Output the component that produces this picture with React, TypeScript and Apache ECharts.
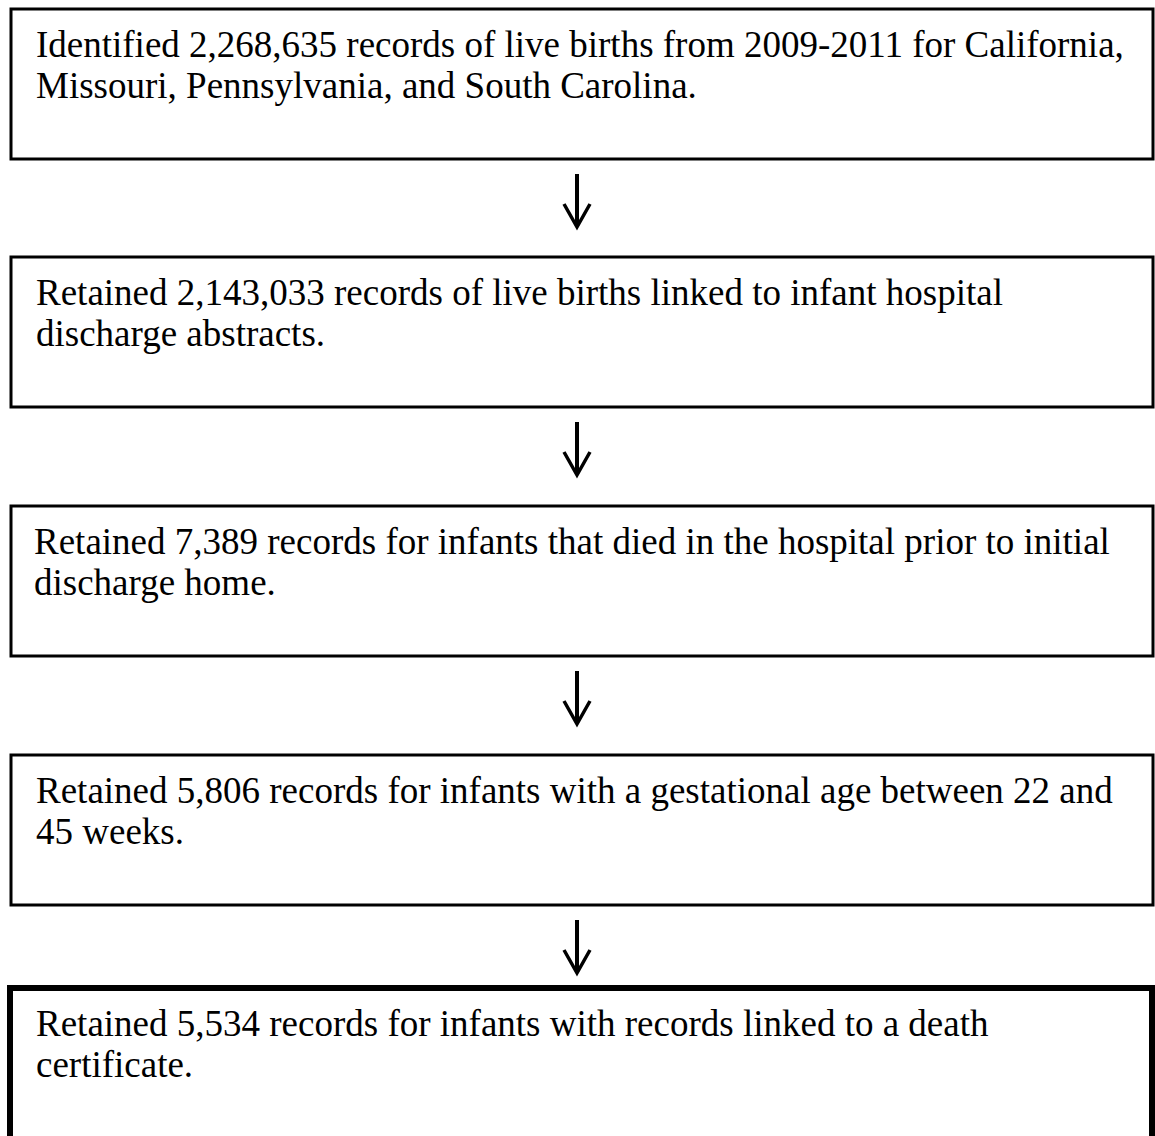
import React, { useEffect, useRef } from "react";
import * as echarts from "echarts";

const boxLines: string[][] = [
  ["Identified 2,268,635 records of live births from 2009-2011 for California,", "Missouri, Pennsylvania, and South Carolina."],
  ["Retained 2,143,033 records of live births linked to infant hospital", "discharge abstracts."],
  ["Retained 7,389 records for infants that died in the hospital prior to initial", "discharge home."],
  ["Retained 5,806 records for infants with a gestational age between 22 and", "45 weeks."],
  ["Retained 5,534 records for infants with records linked to a death", "certificate."],
];
const boxTops = [9, 257, 506, 755, 988];
const boxTextLeft = [36, 36, 34, 36, 36];
const boxBorder = [3, 3, 3, 3, 6];

export default function App() {
  const ref = useRef<HTMLDivElement>(null);
  useEffect(() => {
    if (!ref.current) return;
    const chart = echarts.init(ref.current, null, { renderer: "svg" });
    const boxH = 150;
    const fontSize = 37;
    const elements: any[] = [];
    boxLines.forEach((lines, i) => {
      const y = boxTops[i];
      const last = i === boxLines.length - 1;
      const bw = boxBorder[i];
      elements.push({
        type: "rect",
        shape: { x: last ? 10 : 11, y: y, width: 1142, height: last ? 220 : boxH },
        style: { fill: "#fff", stroke: "#000", lineWidth: bw },
      });
      lines.forEach((t, j) => {
        const baseline = y + 48 + j * 41;
        elements.push({
          type: "text",
          x: boxTextLeft[i],
          y: baseline - 12.5,
          style: {
            text: t,
            fill: "#000",
            fontFamily: "Liberation Serif",
            fontSize: fontSize,
            verticalAlign: "middle",
            align: "left",
          },
        });
      });
      if (!last) {
        const ay = y + boxH + 15;
        elements.push({
          type: "line",
          shape: { x1: 577, y1: ay, x2: 577, y2: ay + 51 },
          style: { stroke: "#000", lineWidth: 4 },
        });
        elements.push({
          type: "polyline",
          shape: { points: [[564, ay + 30], [577, ay + 53], [590, ay + 30]] },
          style: { stroke: "#000", lineWidth: 3.5, fill: "none", lineJoin: "miter" },
        });
      }
    });
    chart.setOption({
      animation: false,
      backgroundColor: "#fff",
      graphic: { elements },
    });
    return () => chart.dispose();
  }, []);
  return (
    <div
      ref={ref}
      style={{ position: "fixed", left: 0, top: 0, width: 1155, height: 1136 }}
    />
  );
}
